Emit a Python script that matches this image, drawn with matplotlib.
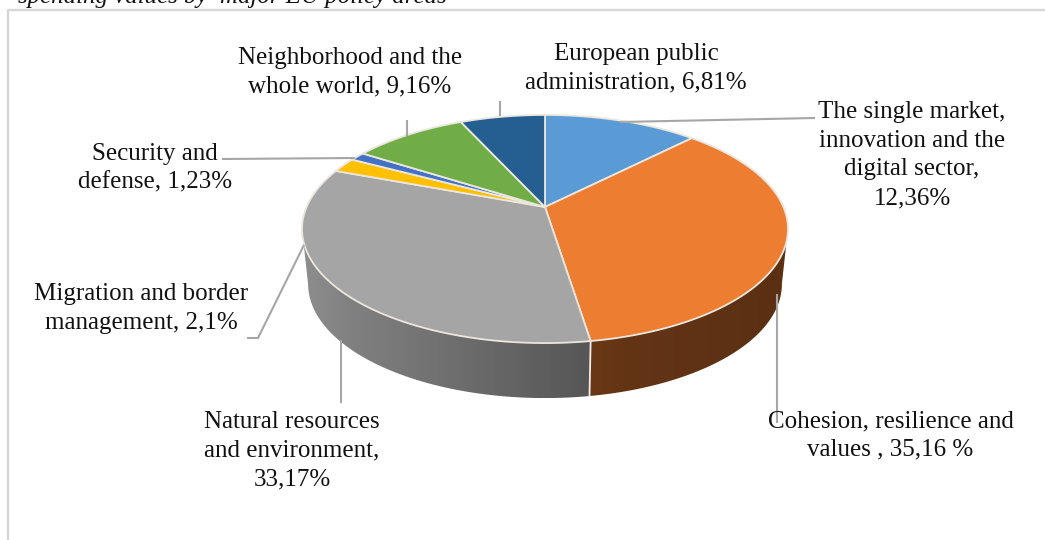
import numpy as np
import matplotlib
matplotlib.use("Agg")
import matplotlib.pyplot as plt
from matplotlib.colors import to_rgb
from matplotlib.patches import Polygon

plt.rcParams['font.family'] = ['Liberation Serif', 'DejaVu Serif']

# policy areas, clockwise from 12 o'clock
labels = ["The single market,\ninnovation and the\ndigital sector,\n12,36%",
          "Cohesion, resilience and\nvalues , 35,16 %",
          "Natural resources\nand environment,\n33,17%",
          "Migration and border\nmanagement, 2,1%",
          "Security and\ndefense, 1,23%",
          "Neighborhood and the\nwhole world, 9,16%",
          "European public\nadministration, 6,81%"]
shares = [12.36, 35.16, 33.17, 2.1, 1.23, 9.16, 6.81]
colors = ["#5b9bd5", "#ed7d31", "#a5a5a5", "#ffc000", "#4472c4", "#70ad47", "#255e91"]
label_pos = [(912, 155), (890.5, 435.5), (292, 450.5), (141, 308.5), (155, 168.5), (350, 72), (636, 68)]

leaders = [[(815, 118), (620, 122)],
           [(777, 294), (777, 423)],
           [(341, 340), (341, 403)],
           [(247, 338), (258, 338), (304, 245)],
           [(222, 159), (355, 158)],
           [(407, 120), (407, 136)],
           [(500, 101), (500, 116)]]

# wall shading along x: (slice index, x stops, brightness stops)
wall_shades = {1: ([590, 625, 790], [0.45, 0.42, 0.38]),
               2: ([302, 350, 590], [0.86, 0.78, 0.52])}

# pie placement in pixels
cx, cy = 545, 207
A, B, k = 238.4, 109.8, 0.193
depth = 55
shrink = 0.975


def project(theta, scale=1.0):
    # disc seen in perspective, theta in radians clockwise from the far edge
    X, Y = np.sin(theta), np.cos(theta)
    w = 1 + k * Y
    return cx + scale * A * X / w, cy - B * Y / w


fig = plt.figure(figsize=(10.45, 5.4), dpi=100)
ax = fig.add_axes([0, 0, 1, 1])

# chart frame, running off the right and bottom edges
ax.plot([1045, 8, 8], [9.5, 9.5, 540], color="#d6d6d6", lw=1.7, zorder=1)
ax.text(18, 3, "spending values by  major EU policy areas", style="italic",
        fontsize=17.9, ha="left", va="baseline", color="#111111", zorder=5)

edges = np.radians(np.concatenate([[0], np.cumsum(shares)]) * 3.6 * 100 / sum(shares))

# outer wall first, the top face hides whatever lies behind it
for i, (stops, levels) in wall_shades.items():
    t = np.linspace(edges[i], edges[i + 1], 400)
    x, _ = project(t)
    # only the stretch between the left and right silhouette points is visible
    t = t[np.argmax(x):np.argmin(x) + 1]
    x, y = project(t)
    bx, by = project(t, shrink)
    outline = np.column_stack([np.r_[x, bx[::-1]], np.r_[y, by[::-1] + depth]])
    clip = Polygon(outline, closed=True, facecolor="none", edgecolor="none", transform=ax.transData)
    ax.add_patch(clip)
    xs = np.linspace(outline[:, 0].min(), outline[:, 0].max(), 256)
    ramp = np.interp(xs, stops, levels)[None, :, None] * np.array(to_rgb(colors[i]))
    img = ax.imshow(ramp, extent=(xs[0], xs[-1], outline[:, 1].max(), outline[:, 1].min()),
                    aspect="auto", interpolation="bilinear", zorder=2)
    img.set_clip_path(clip)

ax.set_xlim(0, 1045)
ax.set_ylim(540, 0)
ax.axis("off")

# light seam between the two visible walls
sx, sy = project(edges[2])
bx, by = project(edges[2], shrink)
ax.plot([sx, bx], [sy, by + depth], color="#f2ede8", lw=1.3, zorder=3)

# top face
for i, color in enumerate(colors):
    t = np.linspace(edges[i], edges[i + 1], 200)
    x, y = project(t)
    pts = np.column_stack([np.r_[cx, x], np.r_[cy, y]])
    ax.add_patch(Polygon(pts, closed=True, facecolor=color, edgecolor="#ebe6de",
                         lw=1.3, joinstyle="round", zorder=4))

for pts in leaders:
    xs, ys = zip(*pts)
    ax.plot(xs, ys, color="#a6a6a6", lw=1.5, zorder=5, solid_capstyle="butt")

for text, (x, y) in zip(labels, label_pos):
    ax.text(x, y, text, ha="center", va="center", fontsize=18, linespacing=1.4,
            color="#111111", zorder=6)

fig.savefig("out.png", dpi=100)
